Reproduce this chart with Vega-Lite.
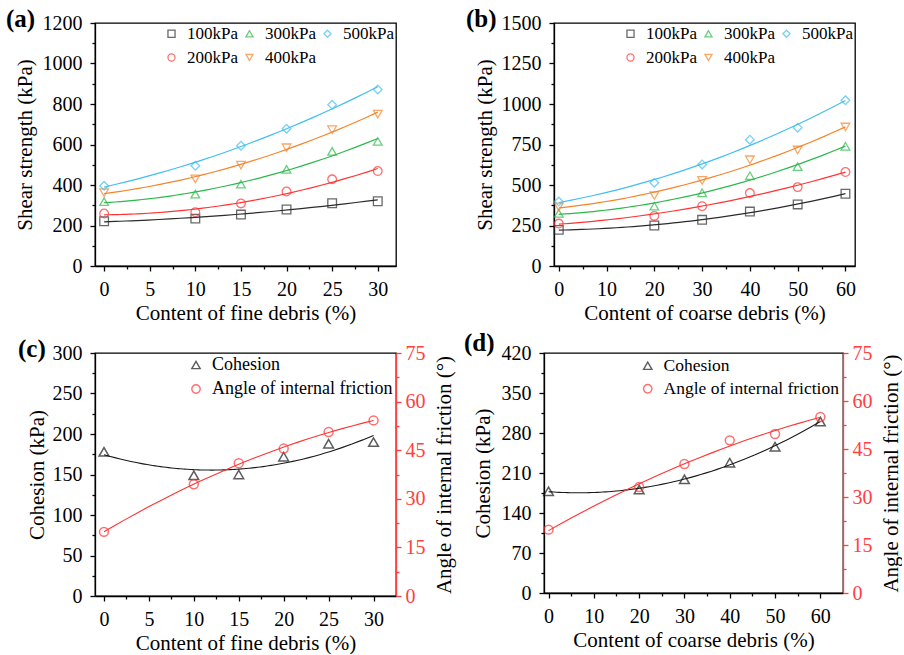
{
  "$schema": "https://vega.github.io/schema/vega-lite/v6.json",
  "padding": {"left": 5, "top": 6, "right": 0, "bottom": 0},
  "config": {
    "font": "Liberation Serif",
    "view": {"stroke": "black", "strokeWidth": 1.3},
    "axis": {"labelFont": "Liberation Serif", "titleFont": "Liberation Serif", "labelFontSize": 20, "titleFontSize": 21, "titleFontWeight": "normal", "labelColor": "black", "titleColor": "black", "domainColor": "black", "tickColor": "black", "grid": false, "domainWidth": 1.3, "tickWidth": 1.3, "tickSize": 5, "labelPadding": 8, "titlePadding": 6, "labelFlush": false, "labelOverlap": false},
    "axisBottom": {"titlePadding": 3},
    "legend": {"labelFont": "Liberation Serif", "labelFontSize": 17, "labelColor": "black", "labelLimit": 300},
    "title": {"font": "Liberation Serif", "fontSize": 25, "fontWeight": "bold", "anchor": "start", "color": "black"}
  },
  "datasets": {
    "a": [
      {"x": 0, "y": 221, "p": "100kPa"}, {"x": 10, "y": 234, "p": "100kPa"}, {"x": 15, "y": 254, "p": "100kPa"}, {"x": 20, "y": 279, "p": "100kPa"}, {"x": 25, "y": 310, "p": "100kPa"}, {"x": 30, "y": 320, "p": "100kPa"},
      {"x": 0, "y": 259, "p": "200kPa"}, {"x": 10, "y": 266, "p": "200kPa"}, {"x": 15, "y": 309, "p": "200kPa"}, {"x": 20, "y": 368, "p": "200kPa"}, {"x": 25, "y": 428, "p": "200kPa"}, {"x": 30, "y": 469, "p": "200kPa"},
      {"x": 0, "y": 318, "p": "300kPa"}, {"x": 10, "y": 355, "p": "300kPa"}, {"x": 15, "y": 404, "p": "300kPa"}, {"x": 20, "y": 477, "p": "300kPa"}, {"x": 25, "y": 566, "p": "300kPa"}, {"x": 30, "y": 615, "p": "300kPa"},
      {"x": 0, "y": 362, "p": "400kPa"}, {"x": 10, "y": 430, "p": "400kPa"}, {"x": 15, "y": 498, "p": "400kPa"}, {"x": 20, "y": 584, "p": "400kPa"}, {"x": 25, "y": 673, "p": "400kPa"}, {"x": 30, "y": 750, "p": "400kPa"},
      {"x": 0, "y": 396, "p": "500kPa"}, {"x": 10, "y": 495, "p": "500kPa"}, {"x": 15, "y": 594, "p": "500kPa"}, {"x": 20, "y": 678, "p": "500kPa"}, {"x": 25, "y": 796, "p": "500kPa"}, {"x": 30, "y": 872, "p": "500kPa"}
    ],
    "b": [
      {"x": 0, "y": 223, "p": "100kPa"}, {"x": 20, "y": 250, "p": "100kPa"}, {"x": 30, "y": 285, "p": "100kPa"}, {"x": 40, "y": 336, "p": "100kPa"}, {"x": 50, "y": 380, "p": "100kPa"}, {"x": 60, "y": 446, "p": "100kPa"},
      {"x": 0, "y": 262, "p": "200kPa"}, {"x": 20, "y": 309, "p": "200kPa"}, {"x": 30, "y": 369, "p": "200kPa"}, {"x": 40, "y": 450, "p": "200kPa"}, {"x": 50, "y": 487, "p": "200kPa"}, {"x": 60, "y": 580, "p": "200kPa"},
      {"x": 0, "y": 325, "p": "300kPa"}, {"x": 20, "y": 369, "p": "300kPa"}, {"x": 30, "y": 452, "p": "300kPa"}, {"x": 40, "y": 557, "p": "300kPa"}, {"x": 50, "y": 613, "p": "300kPa"}, {"x": 60, "y": 739, "p": "300kPa"},
      {"x": 0, "y": 365, "p": "400kPa"}, {"x": 20, "y": 435, "p": "400kPa"}, {"x": 30, "y": 528, "p": "400kPa"}, {"x": 40, "y": 656, "p": "400kPa"}, {"x": 50, "y": 716, "p": "400kPa"}, {"x": 60, "y": 858, "p": "400kPa"},
      {"x": 0, "y": 398, "p": "500kPa"}, {"x": 20, "y": 514, "p": "500kPa"}, {"x": 30, "y": 627, "p": "500kPa"}, {"x": 40, "y": 780, "p": "500kPa"}, {"x": 50, "y": 854, "p": "500kPa"}, {"x": 60, "y": 1023, "p": "500kPa"}
    ],
    "c": [
      {"x": 0, "v": 178, "s": "Cohesion"}, {"x": 10, "v": 149, "s": "Cohesion"}, {"x": 15, "v": 150, "s": "Cohesion"}, {"x": 20, "v": 172, "s": "Cohesion"}, {"x": 25, "v": 188, "s": "Cohesion"}, {"x": 30, "v": 190, "s": "Cohesion"},
      {"x": 0, "v": 19.8, "s": "Angle of internal friction"}, {"x": 10, "v": 34.5, "s": "Angle of internal friction"}, {"x": 15, "v": 41.0, "s": "Angle of internal friction"}, {"x": 20, "v": 45.5, "s": "Angle of internal friction"}, {"x": 25, "v": 50.6, "s": "Angle of internal friction"}, {"x": 30, "v": 54.2, "s": "Angle of internal friction"}
    ],
    "d": [
      {"x": 0, "v": 178, "s": "Cohesion"}, {"x": 20, "v": 181, "s": "Cohesion"}, {"x": 30, "v": 199, "s": "Cohesion"}, {"x": 40, "v": 228, "s": "Cohesion"}, {"x": 50, "v": 256, "s": "Cohesion"}, {"x": 60, "v": 300, "s": "Cohesion"},
      {"x": 0, "v": 19.8, "s": "Angle of internal friction"}, {"x": 20, "v": 33.1, "s": "Angle of internal friction"}, {"x": 30, "v": 40.3, "s": "Angle of internal friction"}, {"x": 40, "v": 47.7, "s": "Angle of internal friction"}, {"x": 50, "v": 49.7, "s": "Angle of internal friction"}, {"x": 60, "v": 55.0, "s": "Angle of internal friction"}
    ]
  },
  "columns": 1,
  "spacing": 6,
  "align": "none",
  "resolve": {"scale": {"color": "independent", "shape": "independent"}, "legend": {"color": "independent", "shape": "independent"}},
  "concat": [
    {
      "spacing": 68,
      "resolve": {"scale": {"color": "independent", "shape": "independent"}, "legend": {"color": "independent", "shape": "independent"}},
      "hconcat": [
        {
          "width": 301, "height": 243,
          "title": {"text": "(a)", "offset": -19, "dx": -8},
          "data": {"name": "a"},
          "layer": [
            {
              "transform": [{"regression": "y", "on": "x", "groupby": ["p"], "method": "poly", "order": 2}],
              "mark": {"type": "line", "strokeWidth": 1.2},
              "encoding": {
                "x": {"field": "x", "type": "quantitative", "scale": {"domain": [-1, 32], "nice": false}, "axis": {"values": [2.5, 7.5, 12.5, 17.5, 22.5, 27.5], "labels": false, "domain": false, "tickSize": 3, "title": null, "orient": "bottom"}},
                "y": {"field": "y", "type": "quantitative", "scale": {"domain": [0, 1200], "nice": false}, "axis": {"values": [100, 300, 500, 700, 900, 1100], "labels": false, "domain": false, "tickSize": 3, "title": null, "orient": "left"}},
                "color": {"field": "p", "type": "nominal", "scale": {"domain": ["100kPa", "200kPa", "300kPa", "400kPa", "500kPa"], "range": ["#2b2b2b", "#ff3333", "#2cb84b", "#f5842a", "#40bff0"]}, "legend": null}
              }
            },
            {
              "mark": {"type": "point", "filled": false, "size": 75, "strokeWidth": 1.3},
              "encoding": {
                "x": {"field": "x", "type": "quantitative", "axis": {"values": [0, 5, 10, 15, 20, 25, 30], "title": "Content of fine debris (%)", "orient": "bottom"}},
                "y": {"field": "y", "type": "quantitative", "axis": {"values": [0, 200, 400, 600, 800, 1000, 1200], "format": "d", "title": "Shear strength (kPa)", "orient": "left", "titlePadding": 7}},
                "color": {"field": "p", "type": "nominal", "legend": {"title": null, "orient": "top-right", "columns": 3, "offset": 2, "padding": 0, "symbolSize": 50, "symbolStrokeWidth": 1.3, "columnPadding": 3, "rowPadding": 6, "labelOffset": 7}},
                "shape": {"field": "p", "type": "nominal", "scale": {"domain": ["100kPa", "200kPa", "300kPa", "400kPa", "500kPa"], "range": ["square", "circle", "triangle-up", "triangle-down", "diamond"]}}
              }
            }
          ],
          "resolve": {"axis": {"x": "independent", "y": "independent"}, "legend": {"color": "independent", "shape": "independent"}}
        },
        {
          "width": 301, "height": 243,
          "title": {"text": "(b)", "offset": -19, "dx": -8},
          "data": {"name": "b"},
          "layer": [
            {
              "transform": [{"regression": "y", "on": "x", "groupby": ["p"], "method": "poly", "order": 2}],
              "mark": {"type": "line", "strokeWidth": 1.2},
              "encoding": {
                "x": {"field": "x", "type": "quantitative", "scale": {"domain": [-1, 62], "nice": false}, "axis": {"values": [5, 15, 25, 35, 45, 55], "labels": false, "domain": false, "tickSize": 3, "title": null, "orient": "bottom"}},
                "y": {"field": "y", "type": "quantitative", "scale": {"domain": [0, 1500], "nice": false}, "axis": {"values": [125, 375, 625, 875, 1125, 1375], "labels": false, "domain": false, "tickSize": 3, "title": null, "orient": "left"}},
                "color": {"field": "p", "type": "nominal", "scale": {"domain": ["100kPa", "200kPa", "300kPa", "400kPa", "500kPa"], "range": ["#2b2b2b", "#ff3333", "#2cb84b", "#f5842a", "#40bff0"]}, "legend": null}
              }
            },
            {
              "mark": {"type": "point", "filled": false, "size": 75, "strokeWidth": 1.3},
              "encoding": {
                "x": {"field": "x", "type": "quantitative", "axis": {"values": [0, 10, 20, 30, 40, 50, 60], "title": "Content of coarse debris (%)", "orient": "bottom"}},
                "y": {"field": "y", "type": "quantitative", "axis": {"values": [0, 250, 500, 750, 1000, 1250, 1500], "format": "d", "title": "Shear strength (kPa)", "orient": "left", "titlePadding": 6}},
                "color": {"field": "p", "type": "nominal", "legend": {"title": null, "orient": "top-right", "columns": 3, "offset": 2, "padding": 0, "symbolSize": 50, "symbolStrokeWidth": 1.3, "columnPadding": 3, "rowPadding": 6, "labelOffset": 7}},
                "shape": {"field": "p", "type": "nominal", "scale": {"domain": ["100kPa", "200kPa", "300kPa", "400kPa", "500kPa"], "range": ["square", "circle", "triangle-up", "triangle-down", "diamond"]}}
              }
            }
          ],
          "resolve": {"axis": {"x": "independent", "y": "independent"}, "legend": {"color": "independent", "shape": "independent"}}
        }
      ]
    },
    {
      "columns": 2,
      "spacing": 8,
      "align": "none",
      "resolve": {"scale": {"color": "independent", "shape": "independent"}, "legend": {"color": "independent", "shape": "independent"}},
      "concat": [
        {
          "width": 301, "height": 243,
          "title": {"text": "(c)", "offset": -19, "dx": -8},
          "data": {"name": "c"},
          "layer": [
            {
              "transform": [{"filter": "datum.s === 'Cohesion'"}],
              "layer": [
                {
                  "transform": [{"regression": "v", "on": "x", "method": "poly", "order": 2}],
                  "mark": {"type": "line", "color": "#1a1a1a", "strokeWidth": 1.1},
                  "encoding": {
                    "x": {"field": "x", "type": "quantitative", "scale": {"domain": [-1, 32.5], "nice": false}, "axis": {"values": [2.5, 7.5, 12.5, 17.5, 22.5, 27.5], "labels": false, "domain": false, "tickSize": 3, "title": null, "orient": "bottom"}},
                    "y": {"field": "v", "type": "quantitative", "scale": {"domain": [0, 300], "nice": false}, "axis": {"values": [25, 75, 125, 175, 225, 275], "labels": false, "domain": false, "tickSize": 3, "title": null, "orient": "left"}}
                  }
                },
                {
                  "mark": {"type": "point", "filled": false, "size": 95, "strokeWidth": 1.5},
                  "encoding": {
                    "x": {"field": "x", "type": "quantitative", "axis": {"values": [0, 5, 10, 15, 20, 25, 30], "title": "Content of fine debris (%)", "orient": "bottom"}},
                    "y": {"field": "v", "type": "quantitative", "axis": {"values": [0, 50, 100, 150, 200, 250, 300], "title": "Cohesion (kPa)", "orient": "left", "titlePadding": 5}},
                    "color": {"field": "s", "type": "nominal", "scale": {"domain": ["Cohesion", "Angle of internal friction"], "range": ["#1a1a1a", "#ff3333"]}, "legend": {"title": null, "orient": "top-right", "offset": 3, "padding": 0, "labelFontSize": 18, "symbolSize": 70, "symbolStrokeWidth": 1.4, "rowPadding": 6, "labelOffset": 7}},
                    "shape": {"field": "s", "type": "nominal", "scale": {"domain": ["Cohesion", "Angle of internal friction"], "range": ["triangle-up", "circle"]}}
                  }
                }
              ],
              "resolve": {"axis": {"x": "independent", "y": "independent"}}
            },
            {
              "transform": [{"filter": "datum.s !== 'Cohesion'"}],
              "layer": [
                {
                  "transform": [{"regression": "v", "on": "x", "method": "poly", "order": 2}],
                  "mark": {"type": "line", "color": "#ff3333", "strokeWidth": 1.1},
                  "encoding": {
                    "x": {"field": "x", "type": "quantitative", "axis": null},
                    "y": {"field": "v", "type": "quantitative", "scale": {"domain": [0, 75], "nice": false}, "axis": {"values": [7.5, 22.5, 37.5, 52.5, 67.5], "labels": false, "domain": false, "tickSize": 3, "title": null, "orient": "right", "tickColor": "#ff4040"}}
                  }
                },
                {
                  "mark": {"type": "point", "filled": false, "size": 80, "strokeWidth": 1.5},
                  "encoding": {
                    "x": {"field": "x", "type": "quantitative", "axis": null},
                    "y": {"field": "v", "type": "quantitative", "axis": {"values": [0, 15, 30, 45, 60, 75], "title": "Angle of internal friction (°)", "orient": "right", "titleAngle": 270, "titleBaseline": "top", "titlePadding": 8, "labelPadding": 4, "domainColor": "#ff4040", "tickColor": "#ff4040", "labelColor": "#ff4040"}},
                    "color": {"field": "s", "type": "nominal"},
                    "shape": {"field": "s", "type": "nominal"}
                  }
                }
              ],
              "resolve": {"axis": {"x": "independent", "y": "independent"}}
            }
          ],
          "resolve": {"scale": {"y": "independent"}, "axis": {"x": "independent", "y": "independent"}}
        },
        {
          "width": 299, "height": 240,
          "title": {"text": "(d)", "offset": -13, "dx": -8},
          "data": {"name": "d"},
          "layer": [
            {
              "transform": [{"filter": "datum.s === 'Cohesion'"}],
              "layer": [
                {
                  "transform": [{"regression": "v", "on": "x", "method": "poly", "order": 2}],
                  "mark": {"type": "line", "color": "#1a1a1a", "strokeWidth": 1.1},
                  "encoding": {
                    "x": {"field": "x", "type": "quantitative", "scale": {"domain": [-1, 65], "nice": false}, "axis": {"values": [5, 15, 25, 35, 45, 55], "labels": false, "domain": false, "tickSize": 3, "title": null, "orient": "bottom"}},
                    "y": {"field": "v", "type": "quantitative", "scale": {"domain": [0, 420], "nice": false}, "axis": {"values": [35, 105, 175, 245, 315, 385], "labels": false, "domain": false, "tickSize": 3, "title": null, "orient": "left"}}
                  }
                },
                {
                  "mark": {"type": "point", "filled": false, "size": 95, "strokeWidth": 1.5},
                  "encoding": {
                    "x": {"field": "x", "type": "quantitative", "axis": {"values": [0, 10, 20, 30, 40, 50, 60], "title": "Content of coarse debris (%)", "orient": "bottom"}},
                    "y": {"field": "v", "type": "quantitative", "axis": {"values": [0, 70, 140, 210, 280, 350, 420], "title": "Cohesion (kPa)", "orient": "left", "titlePadding": 8}},
                    "color": {"field": "s", "type": "nominal", "scale": {"domain": ["Cohesion", "Angle of internal friction"], "range": ["#1a1a1a", "#ff3333"]}, "legend": {"title": null, "orient": "top-right", "offset": 4, "padding": 0, "labelFontSize": 17.5, "symbolSize": 70, "symbolStrokeWidth": 1.4, "rowPadding": 4, "labelOffset": 7}},
                    "shape": {"field": "s", "type": "nominal", "scale": {"domain": ["Cohesion", "Angle of internal friction"], "range": ["triangle-up", "circle"]}}
                  }
                }
              ],
              "resolve": {"axis": {"x": "independent", "y": "independent"}}
            },
            {
              "transform": [{"filter": "datum.s !== 'Cohesion'"}],
              "layer": [
                {
                  "transform": [{"regression": "v", "on": "x", "method": "poly", "order": 2}],
                  "mark": {"type": "line", "color": "#ff3333", "strokeWidth": 1.1},
                  "encoding": {
                    "x": {"field": "x", "type": "quantitative", "axis": null},
                    "y": {"field": "v", "type": "quantitative", "scale": {"domain": [0, 75], "nice": false}, "axis": {"values": [7.5, 22.5, 37.5, 52.5, 67.5], "labels": false, "domain": false, "tickSize": 3, "title": null, "orient": "right", "tickColor": "#ff4040"}}
                  }
                },
                {
                  "mark": {"type": "point", "filled": false, "size": 80, "strokeWidth": 1.5},
                  "encoding": {
                    "x": {"field": "x", "type": "quantitative", "axis": null},
                    "y": {"field": "v", "type": "quantitative", "axis": {"values": [0, 15, 30, 45, 60, 75], "title": "Angle of internal friction (°)", "orient": "right", "titleAngle": 270, "titleBaseline": "top", "titlePadding": 8, "labelPadding": 4, "domainColor": "#ff4040", "tickColor": "#ff4040", "labelColor": "#ff4040"}},
                    "color": {"field": "s", "type": "nominal"},
                    "shape": {"field": "s", "type": "nominal"}
                  }
                }
              ],
              "resolve": {"axis": {"x": "independent", "y": "independent"}}
            }
          ],
          "resolve": {"scale": {"y": "independent"}, "axis": {"x": "independent", "y": "independent"}}
        }
      ]
    }
  ]
}
